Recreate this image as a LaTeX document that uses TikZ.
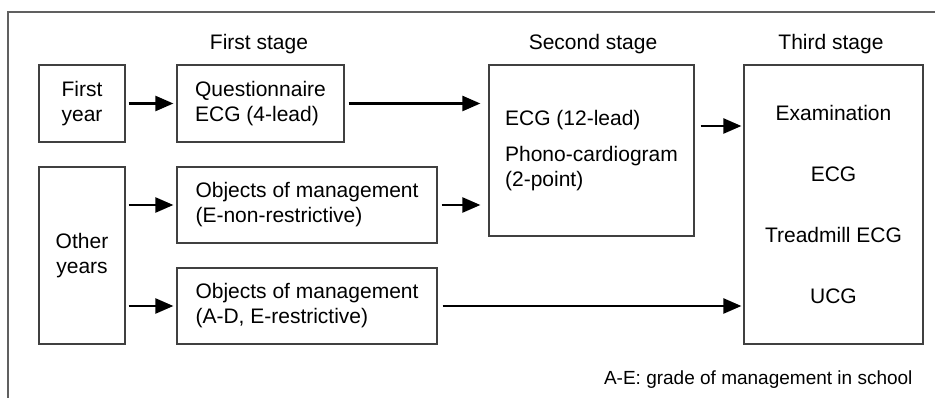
\documentclass[tikz,border=0pt]{standalone}
\usepackage{fontspec}
\setmainfont{Liberation Sans}
\usetikzlibrary{arrows.meta}
\newcommand{\boxfont}{\fontsize{21}{25}\selectfont}
\newcommand{\notefont}{\fontsize{19}{23}\selectfont}
\definecolor{boxline}{HTML}{404040}
\definecolor{frameline}{HTML}{606060}

\begin{document}
\begin{tikzpicture}[x=1pt, y=-1pt,
		box/.style={draw=boxline, line width=1.2pt, inner sep=0pt, font=\boxfont},
		stagelabel/.style={font=\boxfont},
		arr/.style={-{Triangle[length=18pt,width=15pt]}, line width=2.4pt},
		frame/.style={draw=frameline, line width=1.5pt}]
				\useasboundingbox (0,0) rectangle (935,398);
				\draw[frame] (8,398) -- (8,12) -- (935,12);
				\node[stagelabel] (L1)at(259, 44) {First stage};
				\node[stagelabel] (L2)at(593, 44) {Second stage};
				\node[stagelabel] (L3)at(831, 44) {Third stage};
				\node[box, minimum width=86, minimum height=77, align=center] (FY)at(82, 103.5) {First\\year};
				\node[box, minimum width=167, minimum height=77, align=left] (Q)at(260.5, 103.5) {Questionnaire\\ECG (4-lead)};
				\node[box, minimum width=86, minimum height=177, align=center] (OY)at(82, 255.5) {Other\\years};
				\node[box, minimum width=260, minimum height=76, align=left] (OA)at(307, 205) {Objects of management\\(E-non-restrictive)};
				\node[box, minimum width=260, minimum height=76, align=left] (OB)at(307, 306) {Objects of management\\(A-D, E-restrictive)};
				\node[box, minimum width=205, minimum height=171, align=left] (S2)at(591.5, 150.5) {ECG (12-lead)\\[11pt]Phono-cardiogram\\(2-point)};
				\node[box, minimum width=179, minimum height=279, align=center] (S3)at(833.5, 204.5) {Examination\\[36pt]ECG\\[36pt]Treadmill ECG\\[36pt]UCG};
				\node[font=\notefont, anchor=east] (N)at(916, 380) {A-E: grade of management in school};
				\coordinate (S2out) at ([yshift=24.5pt]S2.east);
				\draw[arr, shorten <=3pt, shorten >=3pt] (FY.east) -- (Q.west);
				\draw[arr, shorten <=4pt, shorten >=8pt] (Q.east) -- (S2.west |- Q.east);
				\draw[arr, shorten <=3pt, shorten >=3pt] (OY.east |- OA.west) -- (OA.west);
				\draw[arr, shorten <=3pt, shorten >=3pt] (OY.east |- OB.west) -- (OB.west);
				\draw[arr, shorten <=4pt, shorten >=8pt] (OA.east) -- (S2.west |- OA.east);
				\draw[arr, shorten <=5pt, shorten >=2pt] (OB.east) -- (S3.west |- OB.east);
				\draw[arr, shorten <=6pt, shorten >=2pt] (S2out) -- (S3.west |- S2out);
			\end{tikzpicture}
\end{document}
